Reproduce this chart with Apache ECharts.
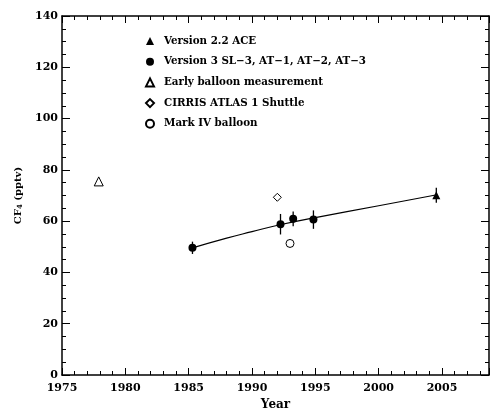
<!DOCTYPE html>
<html>
<head>
<meta charset="utf-8">
<script src="https://cdn.jsdelivr.net/npm/echarts@6/dist/echarts.min.js"></script>
<style>html,body{margin:0;padding:0;background:#fff}#c{width:492px;height:416px}</style>
</head>
<body>
<div id="c"></div>
<script>
// ---- data ----
var aceData = [[2004.55, 70.1]];
var aceErr = [[2004.55, 67.2, 73.0]];
var v3Data = [[1985.3, 49.6], [1992.25, 58.8], [1993.25, 60.9], [1994.85, 60.6]];
var v3Err = [[1985.3, 47.2, 52.0], [1992.25, 54.8, 62.8], [1993.25, 58.0, 63.8], [1994.85, 57.0, 64.2]];
var earlyBalloon = [[1977.9, 75.5]];
var cirris = [[1992.0, 69.3]];
var markIV = [[1993.0, 51.3]];
var fitYears = [1985.3, 1988, 1990, 1992.3, 1995, 2000, 2004.5];
var fitValues = [49.6, 53.4, 55.9, 58.7, 61.4, 66.0, 70.2];
var legendNames = ['Version 2.2 ACE', 'Version 3 SL\u22123, AT\u22121, AT\u22122, AT\u22123', 'Early balloon measurement', 'CIRRIS ATLAS 1 Shuttle', 'Mark IV balloon'];

var FONT = 'DejaVu Serif';
var fitData = fitYears.map(function (y, i) { return [y, fitValues[i]]; });
var errAll = aceErr.concat(v3Err);

function errRender(params, api) {
  var p1 = api.coord([api.value(0), api.value(1)]);
  var p2 = api.coord([api.value(0), api.value(2)]);
  return { type: 'line', shape: { x1: p1[0], y1: p1[1], x2: p2[0], y2: p2[1] }, style: { stroke: '#000', lineWidth: 1.3 } };
}

var XMIN = 1975, XMAX = 2008.71;
function xAx(pos, interval, len, labels, line) {
  return {
    type: 'value', position: pos, min: XMIN, max: XMAX, interval: interval,
    axisLine: { show: line, onZero: false, lineStyle: { color: '#000', width: 1.5 } },
    axisTick: { show: true, inside: true, length: len, lineStyle: { color: '#000', width: 1 } },
    axisLabel: { show: labels, margin: 8, color: '#000', fontFamily: FONT, fontWeight: 'bold', fontSize: 11,
      formatter: function (v) { return (Math.abs(v % 5) < 1e-6) ? String(v) : ''; } },
    splitLine: { show: false },
    name: labels ? 'Year' : '', nameLocation: 'middle', nameGap: 24,
    nameTextStyle: { color: '#000', fontFamily: FONT, fontWeight: 'bold', fontSize: 12 }
  };
}
function yAx(pos, labels) {
  return {
    type: 'value', position: pos, min: 0, max: 140, interval: 20,
    axisLine: { show: true, onZero: false, lineStyle: { color: '#000', width: 1.5 } },
    axisTick: { show: true, inside: true, length: 8, lineStyle: { color: '#000', width: 1 } },
    minorTick: { show: true, splitNumber: 4, length: 4, lineStyle: { color: '#000', width: 1 } },
    axisLabel: { show: labels, margin: 4, color: '#000', fontFamily: FONT, fontWeight: 'bold', fontSize: 11 },
    splitLine: { show: false },
    name: labels ? '{a|CF}{s|4}{a| (pptv)}' : '', nameLocation: 'middle', nameGap: 34, nameRotate: 90,
    nameTextStyle: { color: '#000', rich: {
      a: { fontFamily: FONT, fontWeight: 'bold', fontSize: 10, color: '#000' },
      s: { fontFamily: FONT, fontWeight: 'bold', fontSize: 7, color: '#000', verticalAlign: 'bottom', padding: [5, 0, 0, 0] } } }
  };
}

var chart = echarts.init(document.getElementById('c'), null, { renderer: 'canvas' });
chart.setOption({
  animation: false,
  backgroundColor: '#fff',
  grid: { left: 62, top: 16, width: 428.5, height: 367, containLabel: false },
  xAxis: [
    xAx('bottom', 5, 7, true, true),
    xAx('bottom', 1, 4, false, false),
    xAx('top', 5, 7, false, true),
    xAx('top', 1, 4, false, false)
  ],
  yAxis: [yAx('left', true), yAx('right', false)],
  legend: {
    orient: 'vertical', left: 140, top: 30, itemGap: 8.7, itemWidth: 8, itemHeight: 8,
    data: legendNames, selectedMode: false,
    textStyle: { color: '#000', fontFamily: FONT, fontWeight: 'bold', fontSize: 10.3, lineHeight: 12, padding: [0, 0, 0, 5] }
  },
  series: [
    { type: 'line', data: fitData, smooth: true, symbol: 'none', lineStyle: { color: '#000', width: 1.2 }, silent: true, z: 1 },
    { type: 'custom', data: errAll, renderItem: errRender, silent: true, z: 2 },
    { name: legendNames[0], type: 'scatter', data: aceData, symbol: 'triangle', symbolSize: 8, itemStyle: { color: '#000', opacity: 1 }, z: 3 },
    { name: legendNames[1], type: 'scatter', data: v3Data, symbol: 'circle', symbolSize: 8, itemStyle: { color: '#000', opacity: 1 }, z: 3 },
    { name: legendNames[2], type: 'scatter', data: earlyBalloon, symbol: 'triangle', symbolSize: 9, itemStyle: { color: '#fff', borderColor: '#000', borderWidth: 1, opacity: 1 }, z: 3 },
    { name: legendNames[3], type: 'scatter', data: cirris, symbol: 'diamond', symbolSize: 8, itemStyle: { color: '#fff', borderColor: '#000', borderWidth: 1, opacity: 1 }, z: 3 },
    { name: legendNames[4], type: 'scatter', data: markIV, symbol: 'circle', symbolSize: 8, itemStyle: { color: '#fff', borderColor: '#000', borderWidth: 1, opacity: 1 }, z: 3 }
  ]
});
</script>
</body>
</html>
